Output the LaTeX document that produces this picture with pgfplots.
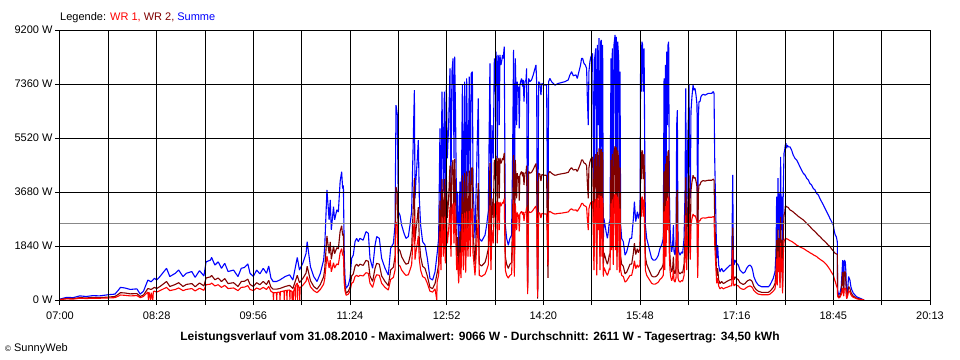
\documentclass[border=0pt]{standalone}
\usepackage{fontspec}
\setmainfont{Liberation Sans}
\usepackage{pgfplots}
\pgfplotsset{compat=1.18}
\definecolor{wr1}{RGB}{255,0,0}
\definecolor{wr2}{RGB}{128,0,0}
\definecolor{summe}{RGB}{0,0,255}
\definecolor{avg}{RGB}{136,136,136}
\newcommand{\fs}{\fontsize{11bp}{13bp}\selectfont}
\begin{document}
\begin{tikzpicture}[font=\fs]
\path[use as bounding box] (-60bp,-60bp) rectangle (900bp,300bp);
\begin{axis}[
  at={(0,0)}, anchor=south west,
  scale only axis, width=870bp, height=270bp,
  xmin=0, xmax=792, ymin=0, ymax=9200,
  axis on top,
  axis line style={black, line width=1bp},
  grid=major, major grid style={black, line width=1bp},
  xtick={0,44,...,792},
  xticklabels={07:00,,08:28,,09:56,,11:24,,12:52,,14:20,,15:48,,17:16,,18:45,,20:13},
  ytick={0,1840,3680,5520,7360,9200},
  yticklabels={0 W,1840 W,3680 W,5520 W,7360 W,9200 W},
  tick pos=left, tick align=outside, major tick length=5bp,
  tick style={black, line width=1bp},
  tick label style={font=\fs},
  xticklabel style={yshift=-3bp},
  yticklabel style={xshift=1bp},
  every axis plot/.append style={line width=1.1bp, line join=bevel, mark=none},
]
\addplot[summe] coordinates {
(0,30)(6,90)(12,80)(18,140)(24,120)(30,150)(36,140)(44,180)(50,200)(53,330)(55,430)(59,410)(64,360)(70,380)(73,200)(76,300)(80,680)(83,620)(86,740)(88,680)(91,800)(97,1080)(100,800)(105,910)(108,1020)(112,800)(115,910)(120,970)(123,770)(127,1000)(131,820)(133,1300)(137,1360)(138,1450)(141,1190)(144,1300)(147,1080)(150,1250)(153,970)(158,1020)(162,800)(165,1080)(168,1110)(171,1230)(173,910)(176,800)(179,1020)(182,890)(185,1080)(188,910)(190,1160)(192,750)(194,630)(197,630)(200,680)(205,800)(209,860)(212,680)(216,1450)(218,1020)(221,1250)(224,1590)(225,1990)(228,1130)(231,800)(234,630)(237,910)(240,1360)(241,1820)(243,3750)(245,2730)(246,3410)(247,2390)(249,3180)(250,2730)(252,3070)(253.4,3000)(255,4030)(256.4,4370)(257.3,3800)(258,3900)(258.8,1420)(259.5,740)(260.5,400)(262.5,510)(264,740)(265.5,1420)(267,1530)(268.6,1990)(270,2100)(271.6,1990)(273,2100)(276,2040)(278.6,2330)(280.7,2270)(282.2,1420)(284.6,1080)(286.8,1870)(288.3,2160)(290.7,2100)(292.8,1420)(295.9,1080)(298.9,850)(301,1760)(303.5,1930)(305,2550)(305.9,6640)(307.1,6300)(308,3010)(309.5,2890)(311,2550)(313.2,2270)(315,2100)(317.1,2160)(318.6,2550)(320.1,3010)(321.7,5620)(322.6,7150)(323.2,3460)(324.1,4140)(325.3,4830)(326.2,5450)(327.1,3460)(328.3,2550)(330.1,1990)(332.3,1870)(334.4,1420)(336.8,740)(339.2,680)(341.4,960)(343.5,1640)(344.7,2100)(345.9,5850)(346.8,2550)(347.7,7100)(349,3690)(349.9,7100)(350.8,3120)(351.7,7320)(352.6,4830)(353.8,5960)(355,7890)(355.9,3690)(356.8,7780)(357.8,8230)(358.7,4830)(359.3,8290)(360.2,5960)(361.1,2550)(362,3690)(362.9,1420)(364.1,4030)(365,1870)(366.3,7320)(367.2,2550)(368.4,7440)(369.3,2330)(370.2,7550)(371.4,3690)(372.6,7610)(373.5,3690)(374.4,7720)(375.4,7780)(376,4000)(377.8,2100)(380.8,6870)(381.7,2100)(383.8,2000)(386.9,2210)(388.4,2550)(389.9,3010)(391.4,8060)(392.3,2550)(393.2,5960)(394.4,4830)(395.4,8230)(396.3,7100)(396.9,8460)(397.5,8010)(398.1,4830)(398.7,8350)(399.3,8230)(399.9,5960)(400.5,8350)(401.4,8010)(402,8120)(402.9,8350)(403.5,8230)(404.4,8630)(405.4,2550)(406.6,2100)(408.1,1870)(409.6,2100)(411.1,2210)(412,4830)(412.9,8520)(413.6,1990)(414.5,8230)(415.7,5960)(416.3,7440)(416.9,7100)(417.5,7270)(418.1,5850)(418.7,7320)(419.3,7440)(420.2,7550)(421.1,7270)(421.7,7500)(422.4,6760)(423.3,7440)(424.2,7500)(424.8,7890)(425.7,510)(426.6,7550)(427.8,7440)(429.3,7500)(430.8,7670)(432.4,7890)(433.3,8010)(433.9,7440)(434.8,280)(435.7,7440)(436.9,7380)(437.8,6980)(438.7,7380)(439.9,7350)(441.5,7320)(443,7320)(444.2,1300)(444.8,7440)(446,7550)(447.5,7440)(449,7380)(450.6,7320)(452.1,7350)(453.6,7380)(456.6,7410)(459.7,7440)(462.7,7500)(464.2,7670)(465.7,7780)(467.3,7640)(469.7,7670)(470.9,7550)(472.4,7780)(473.9,8010)(474.8,8230)(475.8,8230)(477,8060)(478.2,8010)(479.4,7890)(480,6980)(480.9,5960)(481.5,7780)(482.4,8120)(483.3,8290)(484.9,8400)(486.1,2550)(486.7,8230)(487.7,8570)(488.6,2100)(489.2,8690)(490.1,5960)(490.7,8920)(491.6,2550)(492.2,8800)(492.8,8860)(493.4,3690)(494,8690)(494.6,1990)(495.2,2780)(496.2,2550)(497.1,2330)(498.3,2100)(499.2,2330)(500.1,2670)(500.7,2550)(501.6,8230)(502.2,4260)(502.8,8570)(503.7,3010)(504.3,8690)(505.3,9030)(505.9,4260)(506.5,8970)(507.1,2550)(507.7,8800)(508.6,8230)(509.2,2330)(509.8,7780)(510.4,2550)(511.3,2100)(512.8,1990)(514.4,1530)(515.9,1640)(517.4,1870)(518.9,2100)(520.4,2100)(522,2780)(522.9,3350)(524.1,2670)(525.6,3010)(526.5,2780)(528,3010)(528.6,8690)(529.2,7100)(529.8,8800)(530.4,8690)(531,7100)(531.7,8570)(532.3,5280)(532.9,2550)(534.1,2100)(535.6,1870)(537.1,1640)(538.6,1420)(540.1,1360)(541.7,1360)(543.2,1420)(544.7,1530)(546.2,1760)(547.7,1870)(549.2,2100)(549.9,7550)(550.5,2550)(551.1,8010)(551.7,3690)(552.3,8460)(552.9,5960)(553.5,8690)(554.1,8800)(554.7,3690)(555.3,2550)(555.9,1990)(556.8,1640)(557.7,1870)(558.4,2550)(559,1640)(559.9,1530)(560.8,1870)(561.4,5960)(562,6470)(562.6,1870)(563.2,1640)(564.4,1530)(565.9,1640)(566.8,1590)(568.1,2100)(569,3690)(569.6,7210)(570.5,2550)(571.1,4830)(572,6190)(572.6,7320)(573.2,4830)(573.8,3460)(574.4,6420)(575.3,6930)(576.3,7320)(577.2,7150)(578.1,7210)(579,6980)(579.9,6640)(580.5,1870)(581.1,6190)(581.7,6760)(582.6,6760)(583.5,6930)(584.4,6980)(585.7,7010)(587.2,6980)(588.7,7010)(590.2,7040)(591.7,7040)(593.2,7040)(594.8,7100)(595.4,7040)(596,4830)(596.6,3690)(597.2,2550)(597.8,1420)(598.7,1870)(599.6,1190)(600.8,960)(602.3,1080)(603.9,960)(605.4,1020)(606.9,1080)(608.4,1130)(609.9,1190)(611.5,1190)(612.4,4260)(613,1420)(613.6,1190)(614.5,1360)(616,1250)(617.5,1190)(619,1020)(620.5,960)(622,910)(623.6,960)(625.1,1080)(626.6,1160)(628.1,1190)(629.6,1130)(630.5,1020)(631.7,790)(633.6,620)(635.7,510)(638.7,450)(641.8,450)(644.8,450)(646.3,510)(647.8,620)(649.3,740)(650.9,960)(651.8,1590)(652.4,3520)(653,1250)(653.6,4150)(654.2,2380)(654.8,3630)(655.4,1020)(656,4880)(656.6,2380)(657.2,3520)(657.8,570)(658.4,3750)(659.1,5000)(659.7,5110)(660.3,5280)(660.9,5340)(661.5,5170)(662.1,5280)(663,5220)(664.5,5220)(666,5110)(667.5,4940)(669,4830)(670.6,4770)(672.1,4660)(673.6,4540)(675.1,4430)(676.6,4320)(678.2,4260)(679.7,4150)(681.2,4090)(682.7,3970)(684.2,3920)(685.8,3800)(687.3,3750)(688.8,3630)(690.3,3580)(691.8,3460)(693.3,3350)(694.9,3240)(696.4,3120)(697.9,3010)(699.4,2900)(700.9,2780)(702.4,2670)(704,2550)(704.9,2330)(705.8,2210)(706.7,2160)(707.6,1990)(707.9,340)(708.8,170)(710,230)(711.2,450)(712.5,1360)(713.4,340)(714,1360)(714.9,1300)(715.5,910)(716.1,110)(717,340)(717.9,800)(719.1,680)(720,450)(720.9,340)(722.2,230)(723.7,170)(725.2,110)(728.2,60)(730.7,20)(732,0)
};
\addplot[wr2] coordinates {
(0,20)(6,50)(12,50)(18,80)(24,70)(30,90)(36,80)(44,100)(50,120)(53,190)(55,250)(59,240)(64,210)(70,220)(73,120)(76,170)(80,390)(83,360)(86,430)(88,390)(91,460)(97,630)(100,460)(105,530)(108,590)(112,460)(115,530)(120,560)(123,450)(127,580)(131,480)(133,750)(137,790)(138,840)(141,690)(144,750)(147,630)(150,730)(153,560)(158,590)(162,460)(165,630)(168,640)(171,710)(173,530)(176,460)(179,590)(182,520)(185,630)(188,530)(190,670)(192,440)(194,370)(197,370)(200,390)(205,460)(209,500)(212,390)(216,840)(218,590)(221,730)(224,920)(225,1150)(228,660)(231,460)(234,370)(237,530)(240,790)(241,1060)(243,2180)(245,1580)(246,1980)(247,1390)(249,1840)(250,1580)(252,1780)(253.4,1740)(255,2340)(256.4,2530)(257.3,2200)(258,2260)(258.8,820)(259.5,430)(260.5,230)(262.5,300)(264,430)(265.5,820)(267,890)(268.6,1150)(270,1220)(271.6,1150)(273,1220)(276,1180)(278.6,1350)(280.7,1320)(282.2,820)(284.6,630)(286.8,1080)(288.3,1250)(290.7,1220)(292.8,820)(295.9,630)(298.9,490)(301,1020)(303.5,1120)(305,1480)(305.9,3850)(307.1,3650)(308,1750)(309.5,1680)(311,1480)(313.2,1320)(315,1220)(317.1,1250)(318.6,1480)(320.1,1750)(321.7,3260)(322.6,4150)(323.2,2010)(324.1,2400)(325.3,2800)(326.2,3160)(327.1,2010)(328.3,1480)(330.1,1150)(332.3,1080)(334.4,820)(336.8,430)(339.2,390)(341.4,560)(343.5,950)(344.7,1220)(345.9,3390)(346.8,1480)(347.7,4120)(349,2140)(349.9,4120)(350.8,1810)(351.7,4250)(352.6,2800)(353.8,3460)(355,4580)(355.9,2140)(356.8,4510)(357.8,4770)(358.7,2800)(359.3,4810)(360.2,3460)(361.1,1480)(362,2140)(362.9,820)(364.1,2340)(365,1080)(366.3,4250)(367.2,1480)(368.4,4320)(369.3,1350)(370.2,4380)(371.4,2140)(372.6,4410)(373.5,2140)(374.4,4480)(375.4,4510)(376,2320)(377.8,1220)(380.8,3980)(381.7,1220)(383.8,1160)(386.9,1280)(388.4,1480)(389.9,1750)(391.4,4670)(392.3,1480)(393.2,3460)(394.4,2800)(395.4,4770)(396.3,4120)(396.9,4910)(397.5,4650)(398.1,2800)(398.7,4840)(399.3,4770)(399.9,3460)(400.5,4840)(401.4,4650)(402,4710)(402.9,4840)(403.5,4770)(404.4,5010)(405.4,1480)(406.6,1220)(408.1,1080)(409.6,1220)(411.1,1280)(412,2800)(412.9,4940)(413.6,1150)(414.5,4770)(415.7,3460)(416.3,4320)(416.9,4120)(417.5,4220)(418.1,3390)(418.7,4250)(419.3,4320)(420.2,4380)(421.1,4220)(421.7,4350)(422.4,3920)(423.3,4320)(424.2,4350)(424.8,4580)(425.7,300)(426.6,4380)(427.8,4320)(429.3,4350)(430.8,4450)(432.4,4580)(433.3,4650)(433.9,4320)(434.8,50)(435.7,4320)(436.9,4280)(437.8,4050)(438.7,4280)(439.9,4260)(441.5,4250)(443,4250)(444.2,750)(444.8,4320)(446,4380)(447.5,4320)(449,4280)(450.6,4250)(452.1,4260)(453.6,4280)(456.6,4300)(459.7,4320)(462.7,4350)(464.2,4450)(465.7,4510)(467.3,4430)(469.7,4450)(470.9,4380)(472.4,4510)(473.9,4650)(474.8,4770)(475.8,4770)(477,4670)(478.2,4650)(479.4,4580)(480,4050)(480.9,3460)(481.5,4510)(482.4,4710)(483.3,4810)(484.9,4870)(486.1,1480)(486.7,4770)(487.7,4970)(488.6,1220)(489.2,5040)(490.1,3460)(490.7,5170)(491.6,1480)(492.2,5100)(492.8,5140)(493.4,2140)(494,5040)(494.6,1150)(495.2,1610)(496.2,1480)(497.1,1350)(498.3,1220)(499.2,1350)(500.1,1550)(500.7,1480)(501.6,4770)(502.2,2470)(502.8,4970)(503.7,1750)(504.3,5040)(505.3,5240)(505.9,2470)(506.5,5200)(507.1,1480)(507.7,5100)(508.6,4770)(509.2,1350)(509.8,4510)(510.4,1480)(511.3,1220)(512.8,1150)(514.4,890)(515.9,950)(517.4,1080)(518.9,1220)(520.4,1220)(522,1610)(522.9,1940)(524.1,1550)(525.6,1750)(526.5,1610)(528,1750)(528.6,5040)(529.2,4120)(529.8,5100)(530.4,5040)(531,4120)(531.7,4970)(532.3,3060)(532.9,1480)(534.1,1220)(535.6,1080)(537.1,950)(538.6,820)(540.1,790)(541.7,790)(543.2,820)(544.7,890)(546.2,1020)(547.7,1080)(549.2,1220)(549.9,4380)(550.5,1480)(551.1,4650)(551.7,2140)(552.3,4910)(552.9,3460)(553.5,5040)(554.1,5100)(554.7,2140)(555.3,1480)(555.9,1150)(556.8,950)(557.7,1080)(558.4,1480)(559,950)(559.9,890)(560.8,1080)(561.4,3460)(562,3750)(562.6,1080)(563.2,950)(564.4,890)(565.9,950)(566.8,920)(568.1,1220)(569,2140)(569.6,4180)(570.5,1480)(571.1,2800)(572,3590)(572.6,4250)(573.2,2800)(573.8,2010)(574.4,3720)(575.3,4020)(576.3,4250)(577.2,4150)(578.1,4180)(579,4050)(579.9,3850)(580.5,1080)(581.1,3590)(581.7,3920)(582.6,3920)(583.5,4020)(584.4,4050)(585.7,4070)(587.2,4050)(588.7,4070)(590.2,4080)(591.7,4080)(593.2,4080)(594.8,4120)(595.4,4080)(596,2800)(596.6,2140)(597.2,1480)(597.8,820)(598.7,1080)(599.6,690)(600.8,560)(602.3,630)(603.9,560)(605.4,590)(606.9,630)(608.4,660)(609.9,690)(611.5,690)(612.4,2470)(613,820)(613.6,690)(614.5,790)(616,730)(617.5,690)(619,590)(620.5,560)(622,530)(623.6,560)(625.1,630)(626.6,670)(628.1,690)(629.6,660)(630.5,590)(631.7,460)(633.6,360)(635.7,300)(638.7,260)(641.8,260)(644.8,260)(646.3,300)(647.8,360)(649.3,430)(650.9,560)(651.8,920)(652.4,2040)(653,730)(653.6,2410)(654.2,1380)(654.8,2110)(655.4,590)(656,2830)(656.6,1380)(657.2,2040)(657.8,330)(658.4,2180)(659.1,2900)(659.7,2960)(660.3,3200)(660.9,3200)(661.5,3170)(662.1,3170)(663,3150)(664.5,3070)(666,3040)(667.5,3000)(669,2950)(670.6,2900)(672.1,2850)(673.6,2810)(675.1,2770)(676.6,2730)(678.2,2670)(679.7,2610)(681.2,2560)(682.7,2500)(684.2,2440)(685.8,2380)(687.3,2330)(688.8,2270)(690.3,2210)(691.8,2160)(693.3,2100)(694.9,2040)(696.4,1990)(697.9,1930)(699.4,1870)(700.9,1820)(702.4,1740)(704,1670)(704.9,1620)(705.8,1590)(706.7,1570)(707.6,1560)(707.9,200)(708.8,100)(710,140)(711.2,270)(712.5,960)(713.4,200)(714,960)(714.9,960)(715.5,530)(716.1,60)(717,200)(717.9,460)(719.1,390)(720,260)(720.9,200)(722.2,130)(723.7,100)(725.2,60)(728.2,30)(730.7,10)(732,0)
};
\addplot[wr1] coordinates {
(0,10)(6,40)(12,30)(18,60)(24,50)(30,60)(36,60)(44,70)(50,80)(53,130)(55,170)(59,160)(64,140)(70,150)(73,80)(76,120)(80,270)(80.5,0)(81,270)(82.5,0)(83,250)(84.5,0)(85,290)(86,300)(88,270)(91,320)(97,430)(100,320)(105,360)(108,410)(112,320)(115,360)(120,390)(123,310)(127,400)(131,330)(133,520)(137,540)(138,580)(141,480)(144,520)(147,430)(150,500)(153,390)(158,410)(162,320)(165,430)(168,440)(171,490)(173,360)(176,320)(179,410)(182,360)(185,430)(188,360)(190,460)(192,300)(194,250)(194.3,0)(194.6,250)(197,250)(197.3,0)(197.6,260)(200,270)(200.3,0)(200.6,280)(203.9,310)(204.2,0)(204.5,310)(205,320)(206.3,330)(206.6,0)(206.9,330)(209,340)(209.3,0)(209.6,320)(211,300)(211.3,0)(211.6,280)(212,270)(212.4,0)(212.7,300)(214,450)(214.3,0)(214.6,500)(216,580)(216.3,0)(216.6,520)(218,410)(218.3,0)(218.6,420)(221,500)(224,640)(225,800)(228,450)(231,320)(234,250)(237,360)(240,540)(241,730)(243,1500)(245,1090)(246,1360)(247,960)(249,1270)(250,1090)(252,1230)(253.4,1200)(255,1610)(256.4,1750)(257.3,1520)(258,1560)(258.8,570)(259.5,300)(260.5,160)(262.5,200)(264,300)(265.5,570)(267,610)(268.6,800)(270,840)(271.6,800)(273,840)(276,820)(278.6,930)(280.7,910)(282.2,570)(284.6,430)(286.8,750)(288.3,860)(290.7,840)(292.8,570)(295.9,430)(298.9,340)(301,700)(303.5,770)(305,1020)(305.9,2660)(307.1,2520)(308,1200)(309.5,1160)(311,1020)(313.2,910)(315,840)(317.1,860)(318.6,1020)(320.1,1200)(321.7,2250)(322.6,2860)(323.2,1380)(324.1,1660)(325.3,1930)(326.2,2180)(327.1,1380)(328.3,1020)(330.1,800)(332.3,750)(334.4,570)(336.8,300)(339.2,270)(341.4,380)(343,0)(343.3,600)(343.5,660)(344.7,840)(345.9,2340)(346.8,1020)(347.7,2840)(349,1480)(349.9,2840)(350.8,1250)(351.7,2930)(352.6,1930)(353.8,2380)(355,3160)(355.9,1480)(356.8,3110)(357.8,3290)(358.7,1930)(359.3,3320)(360.2,2380)(361.1,1020)(362,1480)(362.9,570)(364.1,1610)(365,750)(366.3,2930)(367.2,1020)(368.4,2980)(369.3,930)(370.2,3020)(371.4,1480)(372.6,3040)(373.5,1480)(374.4,3090)(375.4,3110)(376,1600)(377.8,840)(380.8,2750)(381.7,840)(383.8,800)(386.9,880)(388.4,1020)(389.9,1200)(391.4,3220)(392.3,1020)(393.2,2380)(394.4,1930)(395.4,3290)(396.3,2840)(396.9,3380)(397.5,3200)(398.1,1930)(398.7,3340)(399.3,3290)(399.9,2380)(400.5,3340)(401.4,3200)(402,3250)(402.9,3340)(403.5,3290)(404.4,3450)(405.4,1020)(406.6,840)(408.1,750)(409.6,840)(411.1,880)(412,1930)(412.9,3410)(413.6,800)(414.5,3290)(415.7,2380)(416.3,2980)(416.9,2840)(417.5,2910)(418.1,2340)(418.7,2930)(419.3,2980)(420.2,3020)(421.1,2910)(421.7,3000)(422.4,2700)(423.3,2980)(424.2,3000)(424.8,3160)(425.7,200)(426.6,3020)(427.8,2980)(429.3,3000)(430.8,3070)(432.4,3160)(433.3,3200)(433.9,2980)(434.8,110)(435.7,2980)(436.9,2950)(437.8,2790)(438.7,2950)(439.9,2940)(441.5,2930)(443,2930)(444.2,1190)(444.8,2980)(446,3020)(447.5,2980)(449,2950)(450.6,2930)(452.1,2940)(453.6,2950)(456.6,2960)(459.7,2980)(462.7,3000)(464.2,3070)(465.7,3110)(467.3,3060)(469.7,3070)(470.9,3020)(472.4,3110)(473.9,3200)(474.8,3290)(475.8,3290)(477,3220)(478.2,3200)(479.4,3160)(480,2790)(480.9,2380)(481.5,3110)(482.4,3250)(483.3,3320)(484.9,3360)(486.1,1020)(486.7,3290)(487.7,3430)(488.6,840)(489.2,3480)(490.1,2380)(490.7,3570)(491.6,1020)(492.2,3520)(492.8,3540)(493.4,1480)(494,3480)(494.6,800)(495.2,1110)(496.2,1020)(497.1,930)(498.3,840)(499.2,930)(500.1,1070)(500.7,1020)(501.6,3290)(502.2,1700)(502.8,3430)(503.7,1200)(504.3,3480)(505.3,3610)(505.9,1700)(506.5,3590)(507.1,1020)(507.7,3520)(508.6,3290)(509.2,930)(509.8,3110)(510.4,1020)(511.3,840)(512.8,800)(514.4,610)(515.9,660)(517.4,750)(518.9,840)(520.4,840)(522,1110)(522.9,1340)(524.1,1070)(525.6,1200)(526.5,1110)(528,1200)(528.6,3480)(529.2,2840)(529.8,3520)(530.4,3480)(531,2840)(531.7,3430)(532.3,2110)(532.9,1020)(534.1,840)(535.6,750)(537.1,660)(538.6,570)(540.1,540)(541.7,540)(543.2,570)(544.7,610)(546.2,700)(547.7,750)(549.2,840)(549.9,3020)(550.5,1020)(551.1,3200)(551.7,1480)(552.3,3380)(552.9,2380)(553.5,3480)(554.1,3520)(554.7,1480)(555.3,1020)(555.9,800)(556.8,660)(557.7,750)(558.4,1020)(559,660)(559.9,610)(560.8,750)(561.4,2380)(562,2590)(562.6,750)(563.2,660)(564.4,610)(565.9,660)(566.8,640)(568.1,840)(569,1480)(569.6,2880)(570.5,1020)(571.1,1930)(572,2480)(572.6,2930)(573.2,1930)(573.8,1380)(574.4,2570)(575.3,2770)(576.3,2930)(577.2,2860)(578.1,2880)(579,2790)(579.9,2660)(580.5,750)(581.1,2480)(581.7,2700)(582.6,2700)(583.5,2770)(584.4,2790)(585.7,2800)(587.2,2790)(588.7,2800)(590.2,2820)(591.7,2820)(593.2,2820)(594.8,2840)(595.4,2820)(596,1930)(596.6,1480)(597.2,1020)(597.8,570)(598.7,750)(599.6,480)(600.8,380)(602.3,430)(603.9,380)(605.4,410)(606.9,430)(608.4,450)(609.9,480)(611.5,480)(612.4,1700)(613,570)(613.6,480)(614.5,540)(616,500)(617.5,480)(619,410)(620.5,380)(622,360)(623.6,380)(625.1,430)(626.6,460)(628.1,480)(629.6,450)(630.5,410)(631.7,320)(633.6,250)(635.7,200)(638.7,180)(641.8,180)(644.8,180)(646.3,200)(647.8,250)(649.3,300)(650.9,380)(651.8,640)(652.4,1410)(653,500)(653.6,1660)(654.2,950)(654.8,1450)(655.4,410)(656,1950)(656.6,950)(657.2,1410)(657.8,230)(658.4,1500)(659.1,2000)(659.7,2040)(660.3,2100)(660.9,2100)(661.5,2080)(662.1,2080)(663,2060)(664.5,2020)(666,2000)(667.5,1960)(669,1920)(670.6,1870)(672.1,1840)(673.6,1810)(675.1,1780)(676.6,1760)(678.2,1720)(679.7,1680)(681.2,1650)(682.7,1610)(684.2,1580)(685.8,1540)(687.3,1510)(688.8,1480)(690.3,1430)(691.8,1390)(693.3,1350)(694.9,1310)(696.4,1260)(697.9,1200)(699.4,1120)(700.9,1040)(702.4,940)(704,850)(704.9,720)(705.8,620)(706.7,500)(707.6,400)(707.9,130)(708.8,70)(710,90)(711.2,180)(712.5,400)(713.4,130)(714,400)(714.9,400)(715.5,360)(716.1,40)(717,130)(717.9,320)(719.1,270)(720,180)(720.9,130)(722.2,90)(723.7,70)(725.2,40)(728.2,20)(730.7,10)(732,0)
};
\addplot[avg, line width=1.2bp] coordinates {(0,2611)(792,2611)};
\end{axis}
\node[anchor=west, inner sep=0] at (0bp,282bp) {Legende: \textcolor{wr1}{WR 1,} \textcolor{wr2}{WR 2,} \textcolor{summe}{Summe}};
\node[font=\fontsize{12bp}{14bp}\selectfont\bfseries, inner sep=0] at (420bp,-37bp) {Leistungsverlauf vom 31.08.2010 - Maximalwert: 9066 W - Durchschnitt: 2611 W - Tagesertrag: 34,50 kWh};
\node[anchor=west, inner sep=0] at (-55bp,-49bp) {{\fontsize{8bp}{8bp}\selectfont ©} SunnyWeb};
\end{tikzpicture}
\end{document}
